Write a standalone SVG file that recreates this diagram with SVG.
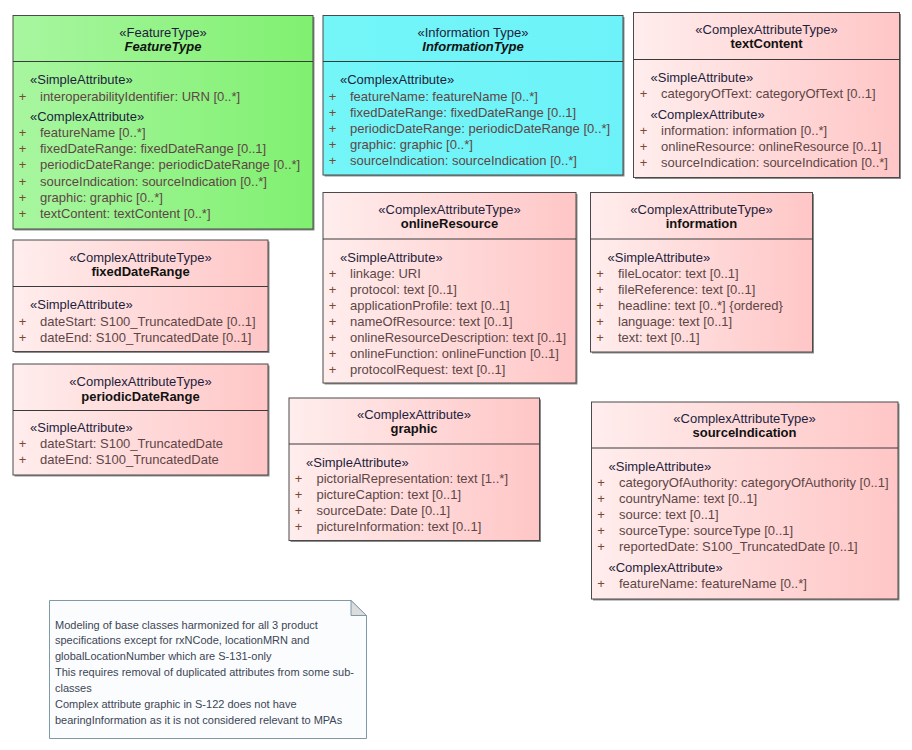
<svg xmlns="http://www.w3.org/2000/svg" width="912" height="750" viewBox="0 0 912 750">
<defs>
<linearGradient id="pink" x1="0" y1="0" x2="1" y2="0"><stop offset="0" stop-color="#ffeded"/><stop offset="1" stop-color="#ffc6c6"/></linearGradient>
<linearGradient id="green" x1="0" y1="0" x2="1" y2="0"><stop offset="0" stop-color="#a8f6a0"/><stop offset="1" stop-color="#80f070"/></linearGradient>
<linearGradient id="cyan" x1="0" y1="0" x2="1" y2="0"><stop offset="0" stop-color="#74f6f8"/><stop offset="1" stop-color="#6cf2f8"/></linearGradient>
<style>
.sh{fill:#8c8c8c}
.box{stroke:#4a4a4a;stroke-width:1}
.dv{stroke:#3a3a3a;stroke-width:1}
text{font-family:"Liberation Sans",Arial,sans-serif;font-size:13px}
.st{fill:#1e1e3c;text-anchor:middle}
.nm{font-weight:bold;fill:#111111;text-anchor:middle}
.it{font-style:italic}
.sec{fill:#1e1e3c}
.pl{fill:#7a4a30;text-anchor:middle}
.at{fill:#5e4646}
.nt{font-size:11px;fill:#3c4656}
</style>
</defs>
<rect width="912" height="750" fill="#ffffff"/>
<g id="connectors"></g>

<g id="FeatureType">
<rect class="sh" x="14.5" y="17" width="300" height="213.5"/>
<rect class="box" x="13" y="15.5" width="300" height="213.5" fill="url(#green)"/>
<line class="dv" x1="13" y1="61.5" x2="313" y2="61.5"/>
<text class="st" x="163" y="36.5">«FeatureType»</text>
<text class="nm it" x="163" y="51">FeatureType</text>
<text class="sec" x="30" y="84">«SimpleAttribute»</text>
<text class="pl" x="22.5" y="100.5">+</text><text class="at" x="40" y="100.5">interoperabilityIdentifier: URN [0..*]</text>
<text class="sec" x="30" y="121">«ComplexAttribute»</text>
<text class="pl" x="22.5" y="137">+</text><text class="at" x="40" y="137">featureName [0..*]</text>
<text class="pl" x="22.5" y="153">+</text><text class="at" x="40" y="153">fixedDateRange: fixedDateRange [0..1]</text>
<text class="pl" x="22.5" y="169">+</text><text class="at" x="40" y="169">periodicDateRange: periodicDateRange [0..*]</text>
<text class="pl" x="22.5" y="185.5">+</text><text class="at" x="40" y="185.5">sourceIndication: sourceIndication [0..*]</text>
<text class="pl" x="22.5" y="201.5">+</text><text class="at" x="40" y="201.5">graphic: graphic [0..*]</text>
<text class="pl" x="22.5" y="217.5">+</text><text class="at" x="40" y="217.5">textContent: textContent [0..*]</text>
</g>

<g id="InformationType">
<rect class="sh" x="324.5" y="17" width="300" height="159.5"/>
<rect class="box" x="323" y="15.5" width="300" height="159.5" fill="url(#cyan)"/>
<line class="dv" x1="323" y1="61.5" x2="623" y2="61.5"/>
<text class="st" x="473" y="36.5">«Information Type»</text>
<text class="nm it" x="473" y="51">InformationType</text>
<text class="sec" x="340" y="84">«ComplexAttribute»</text>
<text class="pl" x="332.5" y="100.5">+</text><text class="at" x="350" y="100.5">featureName: featureName [0..*]</text>
<text class="pl" x="332.5" y="116.5">+</text><text class="at" x="350" y="116.5">fixedDateRange: fixedDateRange [0..1]</text>
<text class="pl" x="332.5" y="132.5">+</text><text class="at" x="350" y="132.5">periodicDateRange: periodicDateRange [0..*]</text>
<text class="pl" x="332.5" y="148.5">+</text><text class="at" x="350" y="148.5">graphic: graphic [0..*]</text>
<text class="pl" x="332.5" y="164.5">+</text><text class="at" x="350" y="164.5">sourceIndication: sourceIndication [0..*]</text>
</g>

<g id="textContent">
<rect class="sh" x="635" y="14" width="266" height="165"/>
<rect class="box" x="633.5" y="12.5" width="266" height="165" fill="url(#pink)"/>
<line class="dv" x1="633.5" y1="59.5" x2="899.5" y2="59.5"/>
<text class="st" x="766.5" y="33.5">«ComplexAttributeType»</text>
<text class="nm" x="766.5" y="48">textContent</text>
<text class="sec" x="650.5" y="81.5">«SimpleAttribute»</text>
<text class="pl" x="643.5" y="97.5">+</text><text class="at" x="661" y="97.5">categoryOfText: categoryOfText [0..1]</text>
<text class="sec" x="650.5" y="118.5">«ComplexAttribute»</text>
<text class="pl" x="643.5" y="134.5">+</text><text class="at" x="661" y="134.5">information: information [0..*]</text>
<text class="pl" x="643.5" y="150.5">+</text><text class="at" x="661" y="150.5">onlineResource: onlineResource [0..1]</text>
<text class="pl" x="643.5" y="166.5">+</text><text class="at" x="661" y="166.5">sourceIndication: sourceIndication [0..*]</text>
</g>

<g id="fixedDateRange">
<rect class="sh" x="14.5" y="241.5" width="255" height="111.5"/>
<rect class="box" x="13" y="240" width="255" height="111.5" fill="url(#pink)"/>
<line class="dv" x1="13" y1="286.5" x2="268" y2="286.5"/>
<text class="st" x="140.5" y="261.5">«ComplexAttributeType»</text>
<text class="nm" x="140.5" y="276">fixedDateRange</text>
<text class="sec" x="30" y="309">«SimpleAttribute»</text>
<text class="pl" x="22.5" y="325.5">+</text><text class="at" x="40" y="325.5">dateStart: S100_TruncatedDate [0..1]</text>
<text class="pl" x="22.5" y="341.5">+</text><text class="at" x="40" y="341.5">dateEnd: S100_TruncatedDate [0..1]</text>
</g>

<g id="periodicDateRange">
<rect class="sh" x="14.5" y="365.5" width="255" height="111"/>
<rect class="box" x="13" y="364" width="255" height="111" fill="url(#pink)"/>
<line class="dv" x1="13" y1="410.5" x2="268" y2="410.5"/>
<text class="st" x="140.5" y="385.5">«ComplexAttributeType»</text>
<text class="nm" x="140.5" y="400.5">periodicDateRange</text>
<text class="sec" x="30" y="432">«SimpleAttribute»</text>
<text class="pl" x="22.5" y="448">+</text><text class="at" x="40" y="448">dateStart: S100_TruncatedDate</text>
<text class="pl" x="22.5" y="464">+</text><text class="at" x="40" y="464">dateEnd: S100_TruncatedDate</text>
</g>

<g id="onlineResource">
<rect class="sh" x="324.5" y="194" width="253" height="190.5"/>
<rect class="box" x="323" y="192.5" width="253" height="190.5" fill="url(#pink)"/>
<line class="dv" x1="323" y1="239" x2="576" y2="239"/>
<text class="st" x="449.5" y="213.5">«ComplexAttributeType»</text>
<text class="nm" x="449.5" y="228">onlineResource</text>
<text class="sec" x="340" y="262">«SimpleAttribute»</text>
<text class="pl" x="332.5" y="278">+</text><text class="at" x="350" y="278">linkage: URI</text>
<text class="pl" x="332.5" y="294">+</text><text class="at" x="350" y="294">protocol: text [0..1]</text>
<text class="pl" x="332.5" y="310">+</text><text class="at" x="350" y="310">applicationProfile: text [0..1]</text>
<text class="pl" x="332.5" y="326">+</text><text class="at" x="350" y="326">nameOfResource: text [0..1]</text>
<text class="pl" x="332.5" y="342">+</text><text class="at" x="350" y="342">onlineResourceDescription: text [0..1]</text>
<text class="pl" x="332.5" y="358">+</text><text class="at" x="350" y="358">onlineFunction: onlineFunction [0..1]</text>
<text class="pl" x="332.5" y="374">+</text><text class="at" x="350" y="374">protocolRequest: text [0..1]</text>
</g>

<g id="information">
<rect class="sh" x="592" y="194" width="222" height="159.5"/>
<rect class="box" x="590.5" y="192.5" width="222" height="159.5" fill="url(#pink)"/>
<line class="dv" x1="590.5" y1="239" x2="812.5" y2="239"/>
<text class="st" x="701.5" y="213.5">«ComplexAttributeType»</text>
<text class="nm" x="701.5" y="228">information</text>
<text class="sec" x="607.5" y="262">«SimpleAttribute»</text>
<text class="pl" x="600" y="278">+</text><text class="at" x="618" y="278">fileLocator: text [0..1]</text>
<text class="pl" x="600" y="294">+</text><text class="at" x="618" y="294">fileReference: text [0..1]</text>
<text class="pl" x="600" y="310">+</text><text class="at" x="618" y="310">headline: text [0..*] {ordered}</text>
<text class="pl" x="600" y="326">+</text><text class="at" x="618" y="326">language: text [0..1]</text>
<text class="pl" x="600" y="342">+</text><text class="at" x="618" y="342">text: text [0..1]</text>
</g>

<g id="graphic">
<rect class="sh" x="290.5" y="399.5" width="250.5" height="142.5"/>
<rect class="box" x="289" y="398" width="250.5" height="142.5" fill="url(#pink)"/>
<line class="dv" x1="289" y1="444" x2="539.5" y2="444"/>
<text class="st" x="414" y="419">«ComplexAttribute»</text>
<text class="nm" x="414" y="433">graphic</text>
<text class="sec" x="306" y="467">«SimpleAttribute»</text>
<text class="pl" x="298.5" y="483">+</text><text class="at" x="316.5" y="483">pictorialRepresentation: text [1..*]</text>
<text class="pl" x="298.5" y="499">+</text><text class="at" x="316.5" y="499">pictureCaption: text [0..1]</text>
<text class="pl" x="298.5" y="515">+</text><text class="at" x="316.5" y="515">sourceDate: Date [0..1]</text>
<text class="pl" x="298.5" y="531">+</text><text class="at" x="316.5" y="531">pictureInformation: text [0..1]</text>
</g>

<g id="sourceIndication">
<rect class="sh" x="593" y="403.5" width="306.5" height="197"/>
<rect class="box" x="591.5" y="402" width="306.5" height="197" fill="url(#pink)"/>
<line class="dv" x1="591.5" y1="448" x2="898" y2="448"/>
<text class="st" x="744.5" y="422.5">«ComplexAttributeType»</text>
<text class="nm" x="744.5" y="437">sourceIndication</text>
<text class="sec" x="608.5" y="471">«SimpleAttribute»</text>
<text class="pl" x="601" y="487">+</text><text class="at" x="619" y="487">categoryOfAuthority: categoryOfAuthority [0..1]</text>
<text class="pl" x="601" y="503">+</text><text class="at" x="619" y="503">countryName: text [0..1]</text>
<text class="pl" x="601" y="519">+</text><text class="at" x="619" y="519">source: text [0..1]</text>
<text class="pl" x="601" y="535">+</text><text class="at" x="619" y="535">sourceType: sourceType [0..1]</text>
<text class="pl" x="601" y="551">+</text><text class="at" x="619" y="551">reportedDate: S100_TruncatedDate [0..1]</text>
<text class="sec" x="608.5" y="572">«ComplexAttribute»</text>
<text class="pl" x="601" y="588">+</text><text class="at" x="619" y="588">featureName: featureName [0..*]</text>
</g>

<g id="note">
<path d="M49.5,600.5 H351 L366.5,615.5 V738.5 H49.5 Z" fill="#fbfcfd" stroke="#7e9aa6" stroke-width="1"/>
<path d="M351,600.5 V615.5 H366.5 Z" fill="#dcdcdc" stroke="#7e9aa6" stroke-width="1"/>
<text class="nt" x="55" y="628.5">Modeling of base classes harmonized for all 3 product</text>
<text class="nt" x="55" y="644">specifications except for rxNCode, locationMRN and</text>
<text class="nt" x="55" y="660">globalLocationNumber which are S-131-only</text>
<text class="nt" x="55" y="676">This requires removal of duplicated attributes from some sub-</text>
<text class="nt" x="55" y="691.5">classes</text>
<text class="nt" x="55" y="707.5">Complex attribute graphic in S-122 does not have</text>
<text class="nt" x="55" y="723.5">bearingInformation as it is not considered relevant to MPAs</text>
</g>
</svg>
